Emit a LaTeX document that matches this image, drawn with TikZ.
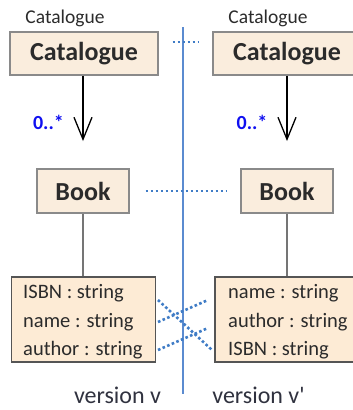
\documentclass[tikz,border=0pt]{standalone}
\usepackage{fontspec}
\setmainfont{Carlito}
\usetikzlibrary{arrows.meta}
\definecolor{boxfill}{HTML}{FAEDDD}
\definecolor{attrfill}{HTML}{FDEBD5}
\definecolor{boxline}{HTML}{8A8A8A}
\definecolor{attrline}{HTML}{555555}
\definecolor{txt}{HTML}{2B2B2B}
\definecolor{multblue}{HTML}{1010F0}
\definecolor{dotblue}{HTML}{3F7CC6}
\definecolor{sepblue}{HTML}{5B8BD0}
\definecolor{vertxt}{HTML}{30323F}
\tikzset{
  clsbox/.style={draw=boxline, line width=1.2pt, fill=boxfill, inner sep=0pt,
    font=\fontsize{26}{30}\selectfont\bfseries, text=txt},
  attrbox/.style={draw=attrline, line width=1.2pt, fill=attrfill, inner sep=0pt,
    minimum width=144pt, minimum height=85pt},
  rowtext/.style={anchor=base west, inner sep=0pt, font=\fontsize{20.5}{24}\selectfont, text=txt},
  smalllabel/.style={inner sep=0pt, font=\fontsize{19.5}{22}\selectfont, text=txt},
  mult/.style={inner sep=0pt, font=\fontsize{20}{24}\selectfont\bfseries, text=multblue},
  assoc/.style={draw=black, line width=1.3pt, -{Straight Barb[length=22pt,width=18pt,line width=1.3pt]}},
  comp/.style={draw=boxline!85!black, line width=2.2pt},
  corr/.style={draw=dotblue, line width=2.6pt, dash pattern=on 2.6pt off 2.4pt},
  sep/.style={draw=sepblue, line width=1.3pt},
  verlabel/.style={anchor=base, inner sep=0pt, font=\fontsize{24}{28}\selectfont, text=vertxt}
}
\begin{document}
\begin{tikzpicture}[x=1pt,y=-1pt]
\useasboundingbox (0,0) rectangle (353,410);
% separator
\coordinate (vtop) at (183,27);
\coordinate (vbot) at (183,394);
\draw[sep] (vtop) -- (vbot);
% catalogue
\node[smalllabel] (lcatlbl) at (65,18) {Catalogue};
\node[smalllabel] (rcatlbl) at (268,18) {Catalogue};
\node[clsbox, minimum width=148pt, minimum height=43pt] (lcat) at (84,53.5) {Catalogue};
\node[clsbox, minimum width=148pt, minimum height=43pt] (rcat) at (287,53.5) {Catalogue};
% book
\node[clsbox, minimum width=92pt, minimum height=44pt] (lbook) at (83,191) {Book};
\node[clsbox, minimum width=92pt, minimum height=44pt] (rbook) at (287,191) {Book};
% associations
\coordinate (larr) at (83,141);
\coordinate (rarr) at (287,141);
\draw[assoc] (lcat.south -| larr) -- (larr);
\draw[assoc] (rcat.south -| rarr) -- (rarr);
\node[mult] (lmult) at (48.5,122) {0..*};
\node[mult] (rmult) at (252,122) {0..*};
% attribute boxes
\node[attrbox] (lattr) at (83.5,319.5) {};
\node[attrbox] (rattr) at (287,319.5) {};
\draw[comp] (lbook.south) -- (lattr.north -| lbook.south);
\draw[comp] (rbook.south) -- (rattr.north -| rbook.south);
\node[rowtext] (lisbn) at (23,298) {ISBN : string};
\node[rowtext] (lname) at (23,327) {name : string};
\node[rowtext] (lauth) at (23,355) {author : string};
\node[rowtext] (rname) at (228,298) {name : string};
\node[rowtext] (rauth) at (228,327) {author : string};
\node[rowtext] (risbn) at (228,355) {ISBN : string};
% correspondences
\draw[corr, shorten <=14pt, shorten >=13pt] ([yshift=11.5pt]lcat.east) -- ([yshift=11.5pt]rcat.west);
\draw[corr, shorten <=16pt, shorten >=13pt] (lbook.east) -- (rbook.west);
\coordinate (lA) at (158,300);
\coordinate (lB) at (158,322);
\coordinate (lC) at (158,350);
\coordinate (rA) at (212,350);
\coordinate (rB) at (208,300);
\coordinate (rC) at (208,328);
\draw[corr] (lA) -- (rA);
\draw[corr] (lB) -- (rB);
\draw[corr] (lC) -- (rC);
% version labels
\node[verlabel] (vleft) at (117.5,403) {version v};
\node[verlabel] (vright) at (258.5,403) {version v\textquotesingle};
\end{tikzpicture}
\end{document}
